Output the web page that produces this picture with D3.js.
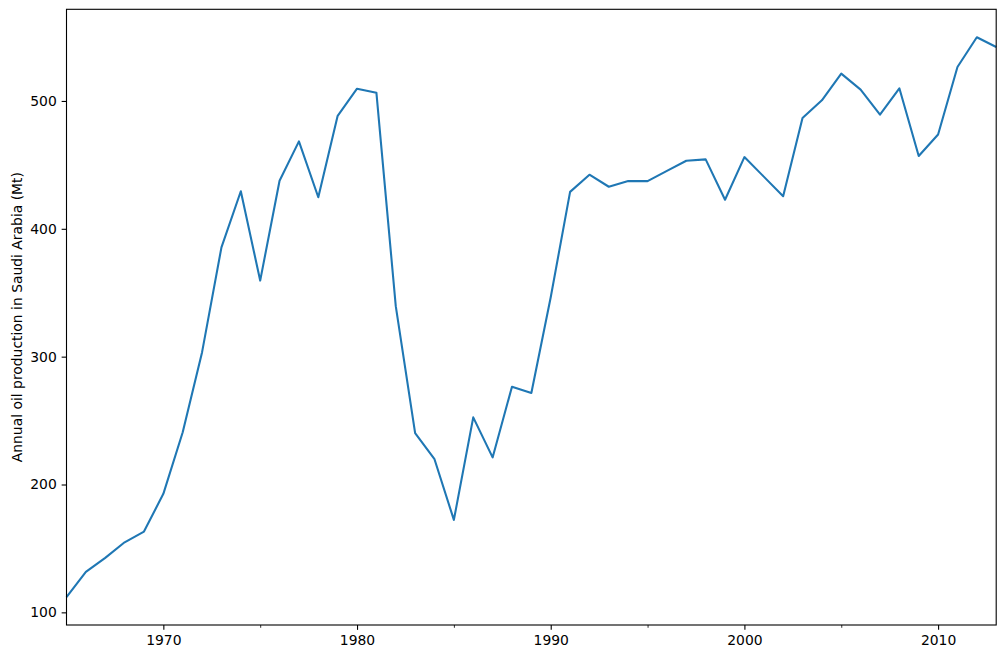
<!DOCTYPE html>
<html>
<head>
<meta charset="utf-8">
<script src="https://cdn.jsdelivr.net/npm/d3@7"></script>
<style>
  html, body { margin: 0; padding: 0; background: #fff; }
  svg { display: block; }
  text { font-family: "DejaVu Sans", sans-serif; fill: #000; }
</style>
</head>
<body>
<script>
const years = d3.range(1965, 2014);
const production = [
  112.0, 131.6, 142.6, 154.8, 163.2, 192.7, 240.9, 303.5, 385.5, 429.4,
  359.5, 437.6, 468.4, 424.7, 488.4, 509.6, 506.5, 339.5, 240.2, 219.8,
  172.3, 252.5, 221.2, 276.5, 271.6, 346.5, 428.9, 442.3, 432.9, 437.3,
  437.3, 445.3, 453.2, 454.3, 422.7, 456.1, 440.8, 425.5, 486.6, 500.5,
  521.4, 508.9, 489.3, 509.9, 456.9, 473.8, 526.6, 549.8, 542.2
];
const xMajorTicks = [1970, 1980, 1990, 2000, 2010];
const xMinorTicks = [1975, 1985, 1995, 2005];
const yTicks = [100, 200, 300, 400, 500];
const yLabel = "Annual oil production in Saudi Arabia (Mt)";

(function () {
const W = 1005, H = 659;
const mLeft = 66.5, mRight = 996.2, mTop = 9.3, mBottom = 625;

const svg = d3.select("body").append("svg").attr("width", W).attr("height", H);

const x = d3.scaleLinear().domain([1965, 2013]).range([mLeft, mRight]);
const [mn, mx] = d3.extent(production);
const pad = (mx - mn) * 0.05;
const y = d3.scaleLinear().domain([mn - pad, mx + pad]).range([mBottom, mTop]);

const fs = "13.9px";

// line
const line = d3.line().x((d, i) => x(years[i])).y(d => y(d));
svg.append("path").datum(production)
  .attr("d", line)
  .attr("fill", "none")
  .attr("stroke", "#1f77b4")
  .attr("stroke-width", 2.08)
  .attr("stroke-linejoin", "round")
  .attr("stroke-linecap", "butt");

// x axis
const xAxis = svg.append("g").attr("transform", `translate(0,${mBottom})`)
  .call(d3.axisBottom(x).tickValues(xMajorTicks).tickFormat(d3.format("d"))
    .tickSizeInner(4.86).tickSizeOuter(0).tickPadding(4.86));
xAxis.select(".domain").remove();
xAxis.selectAll("line").attr("stroke", "#000").attr("stroke-width", 1.1);
xAxis.selectAll("text").attr("font-size", fs).attr("font-family", "DejaVu Sans");

const xMinor = svg.append("g").attr("transform", `translate(0,${mBottom})`)
  .call(d3.axisBottom(x).tickValues(xMinorTicks).tickFormat("")
    .tickSizeInner(2.78).tickSizeOuter(0));
xMinor.select(".domain").remove();
xMinor.selectAll("line").attr("stroke", "#000").attr("stroke-width", 0.83);

// y axis
const yAxis = svg.append("g").attr("transform", `translate(${mLeft},0)`)
  .call(d3.axisLeft(y).tickValues(yTicks).tickFormat(d3.format("d"))
    .tickSizeInner(4.86).tickSizeOuter(0).tickPadding(4.86));
yAxis.select(".domain").remove();
yAxis.selectAll("line").attr("stroke", "#000").attr("stroke-width", 1.1);
yAxis.selectAll("text").attr("font-size", fs).attr("font-family", "DejaVu Sans");

// frame
svg.append("rect")
  .attr("x", mLeft).attr("y", mTop)
  .attr("width", mRight - mLeft).attr("height", mBottom - mTop)
  .attr("fill", "none").attr("stroke", "#000").attr("stroke-width", 1.1);

// y label
svg.append("text")
  .attr("transform", `translate(17,${(mTop + mBottom) / 2}) rotate(-90)`)
  .attr("text-anchor", "middle")
  .attr("dominant-baseline", "central")
  .attr("font-size", fs)
  .text(yLabel);
})();
</script>
</body>
</html>
